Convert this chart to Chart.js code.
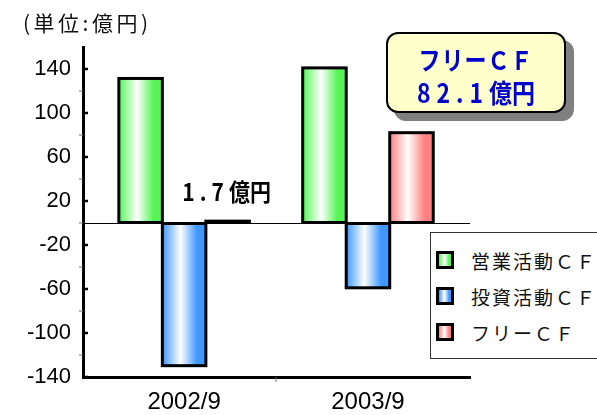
<!DOCTYPE html>
<html lang="ja">
<head>
<meta charset="utf-8">
<title>キャッシュフロー</title>
<script src="https://cdn.jsdelivr.net/npm/chart.js@4/dist/chart.umd.min.js"></script>
<style>
  body { margin: 0; background: #fff; }
  #wrap { position: relative; width: 597px; height: 415px; overflow: hidden; font-family: "Noto Sans CJK JP", sans-serif; }
  #cfChart { position: absolute; left: 0; top: 0; }
  #unit { position: absolute; left: 23px; top: 8px; font-size: 21px; line-height: 28px; letter-spacing: 3.5px; color: #111; }
  #freeBox {
    position: absolute; left: 386px; top: 32px; width: 180px; height: 81px; box-sizing: border-box;
    border: 2px solid #000; border-radius: 12px; background: #ffffcc; box-shadow: 8px 8px 0 #808080;
    color: #0000cc; font-weight: bold; text-align: center;
    line-height: 34px; padding-top: 7px;
  }
  #freeBox .l1 { font-size: 22px; letter-spacing: 1px; transform: scaleY(1.18); }
  #freeBox .l2 { font-size: 23px; transform: scaleY(1.15); }
  #freeBox .num { letter-spacing: 6px; }
  #legend {
    position: absolute; left: 430px; top: 232px; width: 190px; height: 127px; box-sizing: border-box;
    border: 1px solid #333; background: #fff;
  }
  #legend .row { position: absolute; left: 0; height: 36px; display: flex; align-items: center; white-space: nowrap; }
  #legend .sw { width: 12px; height: 12px; border: 3px solid #000; margin-left: 5px; margin-right: 17px; flex: none; }
  #legend .tx { font-size: 19px; letter-spacing: 2px; color: #111; }
</style>
</head>
<body>
<div id="wrap">
  <canvas id="cfChart" width="597" height="415"></canvas>
  <div id="unit">(単位:億円)</div>
  <div id="freeBox"></div>
  <div id="legend"></div>
</div>
<script>
// データ (億円)
const categories = ['2002/9', '2003/9'];
const seriesNames = ['営業活動ＣＦ', '投資活動ＣＦ', 'フリーＣＦ'];
const operatingCF = [131.4, 141.0];
const investingCF = [-129.7, -58.9];
const freeCF = [1.7, 82.1];
const barColors = ['#55f555', '#3f97ff', '#ff8080'];
const yTickLabels = [140, 100, 60, 20, -20, -60, -100, -140];

function barGradient(c, left, width, color) {
    const g = c.createLinearGradient(left, 0, left + width, 0);
    g.addColorStop(0, color);
    g.addColorStop(0.42, '#ffffff');
    g.addColorStop(0.8, color);
    g.addColorStop(1, color);
    return g;
}

// グラデーション棒・目盛・ラベル
const cfPlugin = {
    id: 'cfPlugin',
    afterDatasetsDraw(chart) {
        const c = chart.ctx;
        c.save();
        chart.data.datasets.forEach((ds, i) => {
            chart.getDatasetMeta(i).data.forEach(bar => {
                const { x, y, base, width } = bar.getProps(['x', 'y', 'base', 'width'], true);
                const left = x - width / 2, top = Math.min(y, base), h = Math.abs(base - y);
                c.fillStyle = barGradient(c, left, width, barColors[i]);
                c.fillRect(left, top, width, h);
                c.lineWidth = 3;
                c.strokeStyle = '#000';
                c.strokeRect(left, top, width, h);
            });
        });
        c.restore();
    },
    afterDraw(chart) {
        const c = chart.ctx;
        const ys = chart.scales.y, xs = chart.scales.x, area = chart.chartArea;
        c.save();
        for (let v = -140; v <= 160; v += 20) {
            const py = ys.getPixelForValue(v);
            c.beginPath();
            if (yTickLabels.includes(v)) {
                c.lineWidth = 2.5; c.strokeStyle = '#000';
                c.moveTo(area.left, py); c.lineTo(area.left + 5, py);
            } else if (v !== 160 && v !== -140) {
                c.lineWidth = 1; c.strokeStyle = '#777';
                c.moveTo(area.left - 4, py); c.lineTo(area.left, py);
            }
            c.stroke();
        }
        // カテゴリ境界の目盛
        const mid = (xs.getPixelForValue(0) + xs.getPixelForValue(1)) / 2;
        c.beginPath(); c.lineWidth = 1; c.strokeStyle = '#777';
        c.moveTo(mid, area.bottom); c.lineTo(mid, area.bottom + 5); c.stroke();

        // 2002/9 のフリーCFラベル（数字は字間を広げる）
        const bar = chart.getDatasetMeta(2).data[0];
        const num = String(freeCF[0]), unit = '億円';
        c.fillStyle = '#000';
        c.font = 'bold 21px "Noto Sans CJK JP"';
        c.textBaseline = 'middle';
        c.textAlign = 'left';
        c.letterSpacing = '5px';
        const wNum = c.measureText(num).width;
        c.letterSpacing = '0px';
        const wUnit = c.measureText(unit).width;
        const x0 = bar.x - (wNum + wUnit) / 2 - 1;
        const ty = bar.y - 29;
        c.translate(0, ty);
        c.scale(1, 1.12);
        c.letterSpacing = '5px';
        c.fillText(num, x0, 0);
        c.letterSpacing = '0px';
        c.fillText(unit, x0 + wNum, 0);
        c.restore();
    }
};

const datasets = [operatingCF, investingCF, freeCF].map((d, i) => ({
    label: seriesNames[i],
    data: d.map((v, j) => ({ x: j, y: v })),
    backgroundColor: 'rgba(0,0,0,0)',
    borderWidth: 0,
    categoryPercentage: 0.71,
    barPercentage: 1
}));

new Chart(document.getElementById('cfChart'), {
    type: 'bar',
    data: { datasets },
    options: {
        responsive: false,
        animation: false,
        layout: { padding: { top: 47, right: 127, left: 0, bottom: 0 } },
        plugins: { legend: { display: false }, tooltip: { enabled: false } },
        scales: {
            x: {
                type: 'linear',
                min: -0.55,
                max: 1.555,
                offset: false,
                grid: { color: 'rgba(0,0,0,0)', drawTicks: false },
                border: { color: '#000', width: 3 },
                afterBuildTicks: s => { s.ticks = categories.map((c, j) => ({ value: j })); },
                ticks: {
                    color: '#000',
                    autoSkip: false,
                    font: { family: 'Liberation Sans', size: 24 },
                    padding: 11,
                    callback: v => categories[v] ?? ''
                },
                afterFit: s => { s.height = 38; }
            },
            y: {
                min: -140,
                max: 160,
                grid: {
                    color: c => (c.tick && c.tick.value === 0 ? '#000' : 'rgba(0,0,0,0)'),
                    lineWidth: 1,
                    drawTicks: false
                },
                border: { color: '#000', width: 3 },
                ticks: {
                    stepSize: 20,
                    autoSkip: false,
                    color: '#000',
                    padding: 12,
                    font: { family: 'Liberation Sans', size: 22 },
                    callback: v => (yTickLabels.includes(v) ? String(v) : '')
                },
                afterFit: s => { s.width = 83; }
            }
        }
    },
    plugins: [cfPlugin]
});

// 吹き出し・凡例
document.getElementById('freeBox').innerHTML =
    '<div class="l1">フリーＣＦ</div><div class="l2"><span class="num">' + freeCF[1] + '</span>億円</div>';
document.getElementById('legend').innerHTML = seriesNames.map((n, i) =>
    `<div class="row" style="top:${9 + i * 36}px"><span class="sw" style="background:linear-gradient(to right, ${barColors[i]}, #fff 45%, ${barColors[i]} 85%)"></span><span class="tx">${n}</span></div>`
).join('');
</script>
</body>
</html>
